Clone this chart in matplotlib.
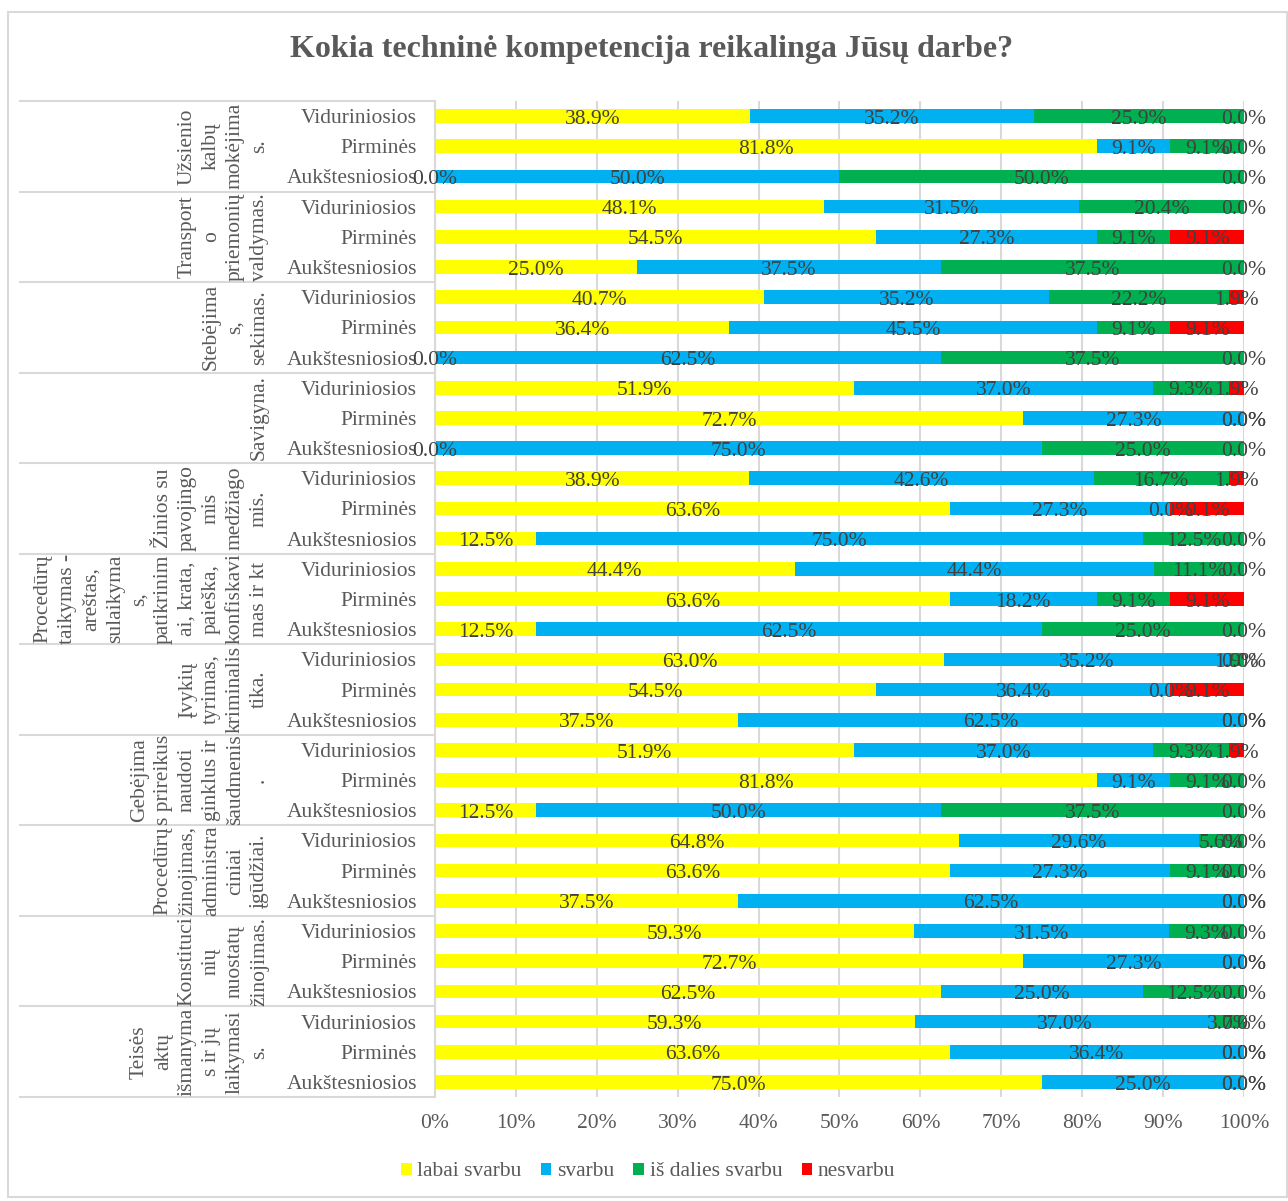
import matplotlib.pyplot as plt
import numpy as np
from matplotlib.patches import Rectangle
from matplotlib.transforms import blended_transform_factory

plt.rcParams['font.family'] = ['Liberation Serif', 'DejaVu Serif']

# competence groups, top to bottom (wrapped as in the axis)
groups = [
    "Užsienio\nkalbų\nmokėjima\ns.",
    "Transport\no\npriemonių\nvaldymas.",
    "Stebėjima\ns,\nsekimas.",
    "Savigyna.",
    "Žinios su\npavojingo\nmis\nmedžiago\nmis.",
    "Procedūrų\ntaikymas -\nareštas,\nsulaikyma\ns,\npatikrinim\nai, krata,\npaieška,\nkonfiskavi\nmas ir kt",
    "Įvykių\ntyrimas,\nkriminalis\ntika.",
    "Gebėjima\ns prireikus\nnaudoti\nginklus ir\nšaudmenis\n.",
    "Procedūrų\nžinojimas,\nadministra\nciniai\nįgūdžiai.",
    "Konstituci\nnių\nnuostatų\nžinojimas.",
    "Teisės\naktų\nišmanyma\ns ir jų\nlaikymasi\ns.",
]
levels = ["Viduriniosios", "Pirminės", "Aukštesniosios"]

labai = [38.9, 81.8, 0.0, 48.1, 54.5, 25.0, 40.7, 36.4, 0.0, 51.9, 72.7, 0.0,
         38.9, 63.6, 12.5, 44.4, 63.6, 12.5, 63.0, 54.5, 37.5, 51.9, 81.8, 12.5,
         64.8, 63.6, 37.5, 59.3, 72.7, 62.5, 59.3, 63.6, 75.0]
svarbu = [35.2, 9.1, 50.0, 31.5, 27.3, 37.5, 35.2, 45.5, 62.5, 37.0, 27.3, 75.0,
          42.6, 27.3, 75.0, 44.4, 18.2, 62.5, 35.2, 36.4, 62.5, 37.0, 9.1, 50.0,
          29.6, 27.3, 62.5, 31.5, 27.3, 25.0, 37.0, 36.4, 25.0]
dalies = [25.9, 9.1, 50.0, 20.4, 9.1, 37.5, 22.2, 9.1, 37.5, 9.3, 0.0, 25.0,
          16.7, 0.0, 12.5, 11.1, 9.1, 25.0, 1.9, 0.0, 0.0, 9.3, 9.1, 37.5,
          5.6, 9.1, 0.0, 9.3, 0.0, 12.5, 3.7, 0.0, 0.0]
nesvarbu = [0.0, 0.0, 0.0, 0.0, 9.1, 0.0, 1.9, 9.1, 0.0, 1.9, 0.0, 0.0,
            1.9, 9.1, 0.0, 0.0, 9.1, 0.0, 0.0, 9.1, 0.0, 1.9, 0.0, 0.0,
            0.0, 0.0, 0.0, 0.0, 0.0, 0.0, 0.0, 0.0, 0.0]

series = ["labai svarbu", "svarbu", "iš dalies svarbu", "nesvarbu"]
colors = ["#FFFF00", "#00B0F0", "#00B050", "#FF0000"]

W, H = 1288, 1201
fig = plt.figure(figsize=(W / 100, H / 100), dpi=100)
ax = fig.add_axes([435 / W, 1 - 1097 / H, 809 / W, 996 / H])

vals = np.array([labai, svarbu, dalies, nesvarbu])
tot = vals.sum(axis=0)
pct = vals / tot * 100
y = np.arange(len(labai))

left = np.zeros(len(labai))
for k in range(4):
    ax.barh(y, pct[k], left=left, height=0.45, color=colors[k],
            label=series[k], zorder=2)
    for i in range(len(y)):
        ax.text(left[i] + pct[k][i] / 2, y[i] + 0.02, f"{vals[k][i]:.1f}%",
                ha="center", va="center_baseline", fontsize=15.5,
                color="#404040", zorder=3, clip_on=False)
    left = left + pct[k]

ax.set_xlim(0, 100)
ax.set_ylim(len(y) - 0.5, -0.5)
ax.set_xticks(np.arange(0, 101, 10))
ax.set_xticklabels([f"{t}%" for t in range(0, 101, 10)])
ax.set_yticks(y)
ax.set_yticklabels(levels * len(groups))
ax.tick_params(axis="both", length=0, labelsize=15.5, labelcolor="#595959")
ax.tick_params(axis="y", pad=13)
ax.tick_params(axis="x", pad=12)
ax.grid(axis="x", color="#D9D9D9", linewidth=1.5, zorder=0)
for s in ["top", "right", "bottom"]:
    ax.spines[s].set_visible(False)
ax.spines["left"].set_color("#D9D9D9")
ax.spines["left"].set_linewidth(1.5)

# outer level of the category axis
tr = blended_transform_factory(fig.transFigure, ax.transData)
for b in np.arange(-0.5, len(y), 3):
    ax.plot([20 / W, 433 / W], [b, b], transform=tr, color="#D9D9D9",
            linewidth=1.5, clip_on=False)
for g, name in enumerate(groups):
    ax.text(269 / W, 3 * g + 1, name, transform=tr, rotation=90,
            ha="right", va="center", multialignment="center",
            fontsize=15.5, color="#595959", linespacing=1.36)

fig.text(652 / W, 1 - 50 / H, "Kokia techninė kompetencija reikalinga Jūsų darbe?",
         ha="center", va="center", fontsize=23, fontweight="bold", color="#595959")

fig.legend(loc="center", bbox_to_anchor=(648 / W, 1 - 1172 / H), ncol=4,
           frameon=False, fontsize=15.5, labelcolor="#595959",
           handlelength=0.5, handleheight=0.5, handletextpad=0.25,
           columnspacing=0.9)

fig.patches.append(Rectangle((8 / W, 0.003), 1 - 9 / W, 1 - 12 / H - 0.003,
                             transform=fig.transFigure, fill=False,
                             edgecolor="#D9D9D9", linewidth=1.5))

fig.savefig("out.png", dpi=100)
